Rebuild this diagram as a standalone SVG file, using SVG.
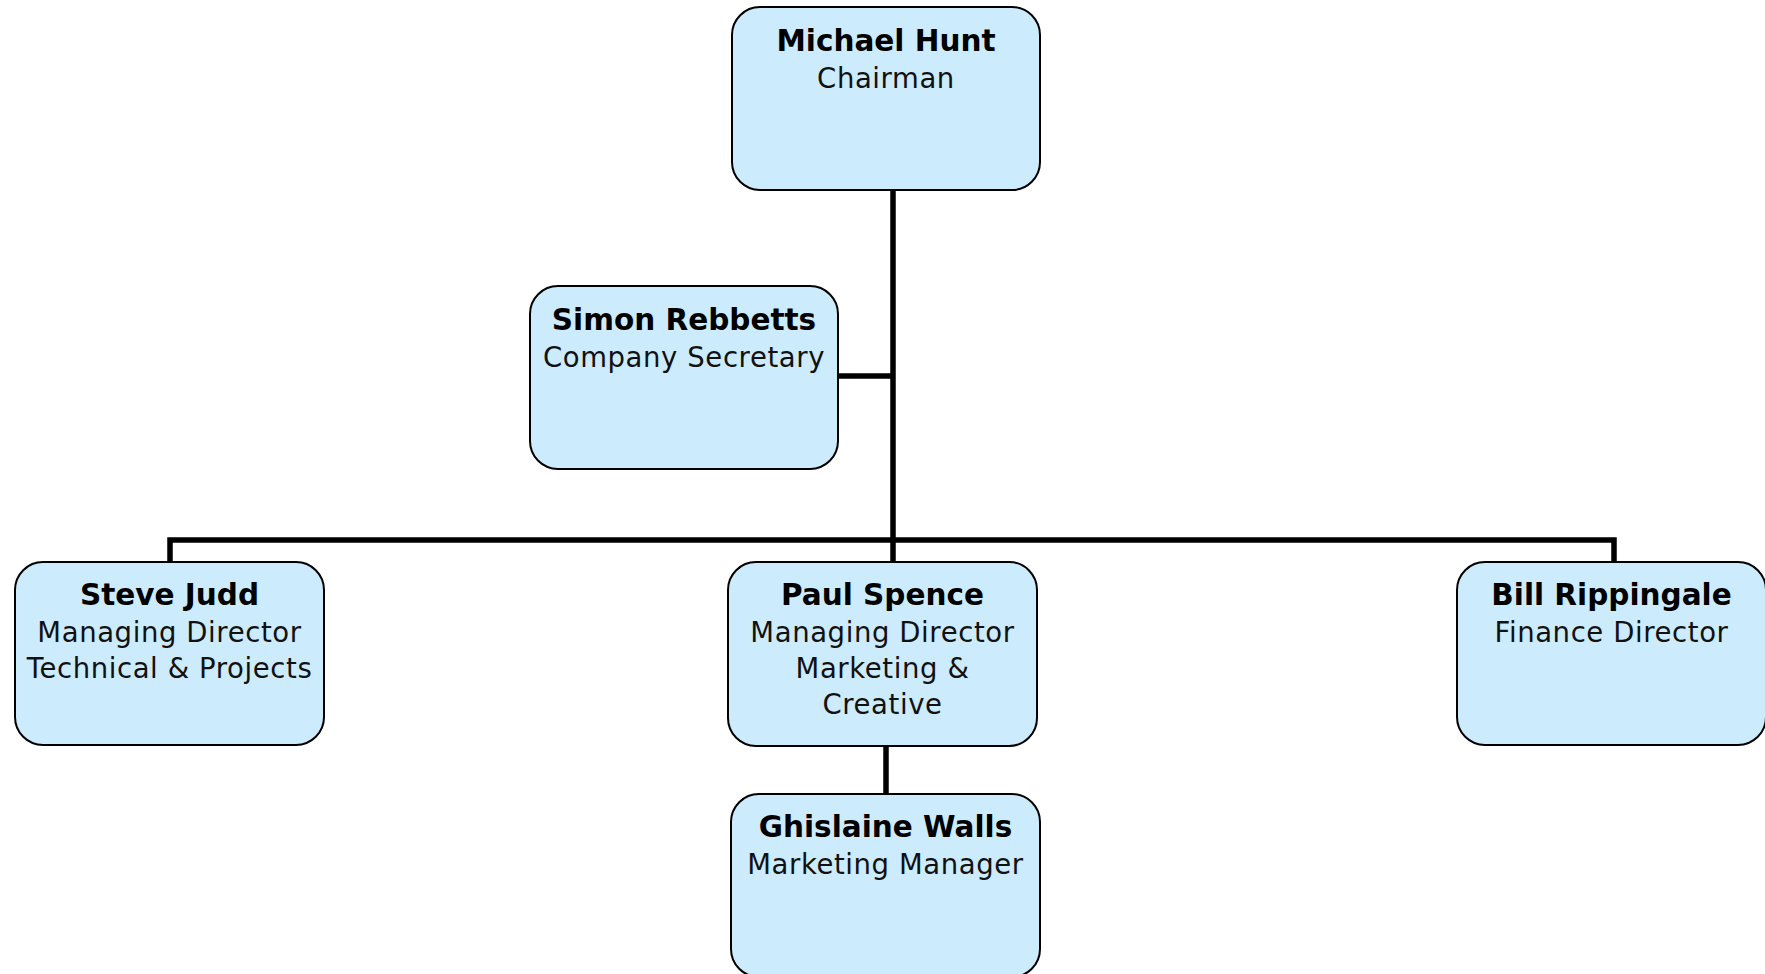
<svg xmlns="http://www.w3.org/2000/svg" width="1765" height="974" viewBox="0 0 1765 974">
<style>
.box{fill:#CCEBFD;stroke:#000;stroke-width:2}
.name{font-family:"DejaVu Sans",sans-serif;font-weight:bold;font-size:29.5px;fill:#000;text-anchor:middle}
.title{font-family:"DejaVu Sans",sans-serif;font-size:27.5px;letter-spacing:0.6px;fill:#111;text-anchor:middle}
.conn{fill:none;stroke:#000;stroke-width:5.5}
</style>
<rect width="1765" height="974" fill="#fff"/>
<g id="connectors">
<path class="conn" d="M893,190 V562"/>
<path class="conn" d="M839,376 H893"/>
<path class="conn" d="M170,562 V540 H1614 V562"/>
<path class="conn" d="M886,746 V794"/>
</g>
<g id="michael-hunt">
<rect class="box" x="732" y="7" width="308" height="183" rx="28"/>
<text class="name" x="886" y="51">Michael Hunt</text>
<text class="title" x="886" y="88">Chairman</text>
</g>
<g id="simon-rebbetts">
<rect class="box" x="530" y="286" width="308" height="183" rx="28"/>
<text class="name" x="684" y="330">Simon Rebbetts</text>
<text class="title" x="684" y="367">Company Secretary</text>
</g>
<g id="steve-judd">
<rect class="box" x="15" y="562" width="309" height="183" rx="28"/>
<text class="name" x="169.5" y="605">Steve Judd</text>
<text class="title" x="169.5" y="642">Managing Director</text>
<text class="title" x="169.5" y="678">Technical &amp; Projects</text>
</g>
<g id="paul-spence">
<rect class="box" x="728" y="562" width="309" height="184" rx="28"/>
<text class="name" x="882.5" y="605">Paul Spence</text>
<text class="title" x="882.5" y="642">Managing Director</text>
<text class="title" x="882.5" y="678">Marketing &amp;</text>
<text class="title" x="882.5" y="714">Creative</text>
</g>
<g id="bill-rippingale">
<rect class="box" x="1457" y="562" width="309" height="183" rx="28"/>
<text class="name" x="1611.5" y="605">Bill Rippingale</text>
<text class="title" x="1611.5" y="642">Finance Director</text>
</g>
<g id="ghislaine-walls">
<rect class="box" x="731" y="794" width="309" height="183" rx="28"/>
<text class="name" x="885.5" y="837">Ghislaine Walls</text>
<text class="title" x="885.5" y="874">Marketing Manager</text>
</g>
</svg>
